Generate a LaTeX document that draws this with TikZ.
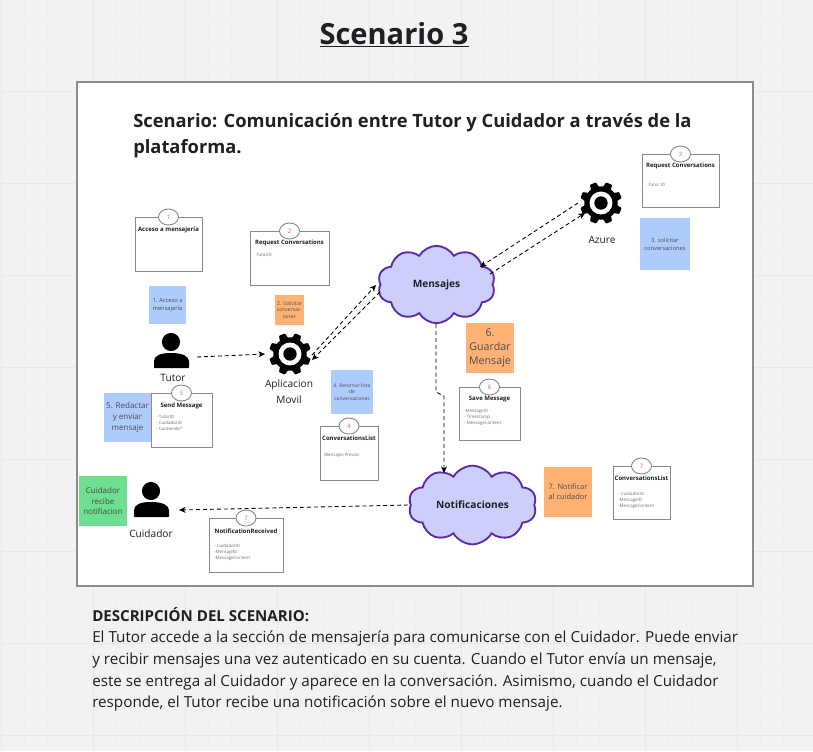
\documentclass[tikz,border=0pt]{standalone}
\usepackage{fontspec}
\setmainfont{Open Sans}
\usetikzlibrary{shapes.symbols,shapes.geometric,arrows.meta}
\definecolor{bg}{HTML}{F2F2F2}
\definecolor{gridc}{HTML}{EEEEEE}
\definecolor{gridm}{HTML}{E8E8E8}
\definecolor{framec}{HTML}{8C8C8C}
\definecolor{cardc}{HTML}{8A8A8A}
\definecolor{sblue}{HTML}{ADCBFB}
\definecolor{sorange}{HTML}{FFB273}
\definecolor{sgreen}{HTML}{6EDE8F}
\definecolor{cloudf}{HTML}{CCCEFC}
\definecolor{cloudd}{HTML}{5B2BAE}
\definecolor{txt}{HTML}{1F1F24}
\definecolor{small}{HTML}{6E6E6E}
\definecolor{badgec}{HTML}{F0565A}
\newcommand{\fsz}[1]{\fontsize{#1}{#1}\selectfont\baselineskip=1.35\baselineskip}
\newcommand{\bodyoff}{22}
\tikzset{
  x=0.75pt,y=-0.75pt,
  cardbox/.style={draw=cardc,line width=0.9pt,fill=white},
  badge/.style={ellipse,draw=cardc,line width=0.7pt,fill=white,text=badgec,inner sep=0pt,minimum width=15pt,minimum height=12pt,font=\fsz{4.5}},
  cardtitle/.style={text=txt,font=\bfseries\fsz{4.5},inner sep=0pt,anchor=center},
  cardbody/.style={text=small,font=\fsz{3.3},inner sep=0pt,anchor=north west,align=left},
  sticky/.style={text=txt!80,inner sep=0pt,align=center},
  conn/.style={draw=black,line width=0.65pt,dash pattern=on 3pt off 2.2pt,-{Stealth[length=5pt,width=4.5pt]}},
  cloudn/.style={cloud,cloud puffs=10,cloud puff arc=120,aspect=1.55,draw=cloudd,line width=1.4pt,fill=cloudf,inner sep=0pt},
  cloudlabel/.style={text=txt,font=\bfseries\fsz{7.6},inner sep=0pt},
  iconlabel/.style={text=txt,font=\fsz{7.6},inner sep=0pt,align=center},
}
\newcommand{\card}[9]{%
  \node[cardbox,minimum width=#4*0.75pt-#2*0.75pt,minimum height=#5*0.75pt-#3*0.75pt,inner sep=0pt,anchor=north west] (#1) at (#2,#3) {};
  \node[badge] (#1b) at ({(#2+#4)/2},#3) {#6};
  \node[cardtitle] (#1t) at ({(#2+#4)/2},#9) {#7};
  \node[cardbody] (#1c) at (#2+5,#3+\bodyoff) {#8};
}
\newcommand{\stick}[8]{%
  \node[sticky,fill=#6,minimum width=#4*0.75pt-#2*0.75pt,minimum height=#5*0.75pt-#3*0.75pt,anchor=north west] (#1) at (#2,#3) {};
  \node[sticky,font=\fsz{#7}] (#1t) at ({(#2+#4)/2},{(#3+#5)/2}) {#8};
}
\newcommand{\persona}[2]{%
  \fill[black] (#1-1,#2-8) circle (6.8pt);
  \fill[black,rounded corners=0.5pt] (#1-18,#2+18) -- (#1-18,#2+12) .. controls (#1-18,#2+6) and (#1-12,#2+3) .. (#1-1,#2+3) .. controls (#1+10,#2+3) and (#1+17,#2+6) .. (#1+17,#2+12) -- (#1+17,#2+18) -- cycle;
}
\newcommand{\engrane}[2]{%
  \begin{scope}[shift={(#1,#2)}]
    \foreach \a in {0,45,...,315}{
      \fill[black,rotate=\a+22.5,rounded corners=0.6pt] (-4.5,-15) -- (-3.2,-21) -- (3.2,-21) -- (4.5,-15) -- cycle;
    }
    \fill[black] (0,0) circle (12.5pt);
    \fill[white] (0,0) circle (8.6pt);
    \fill[black] (0,0) circle (5pt);
  \end{scope}
}
\begin{document}
\begin{tikzpicture}
\useasboundingbox (0,0) rectangle (813,751);
\fill[bg] (0,0) rectangle (813,751);
\foreach \gx in {1,24,...,813}{\draw[gridc,line width=0.4pt] (\gx,0) -- (\gx,751);}
\foreach \gy in {22,45,...,751}{\draw[gridc,line width=0.4pt] (0,\gy) -- (813,\gy);}
\foreach \gx in {1,93,...,813}{\draw[gridm,line width=0.7pt] (\gx,0) -- (\gx,751);}
\foreach \gy in {91,183,...,751}{\draw[gridm,line width=0.7pt] (0,\gy) -- (813,\gy);}
\node[inner sep=0pt,text=txt,font=\bfseries\fsz{21.8}] (titulo) at (394,35) {\underline{Scenario 3}};
\draw[draw=framec,line width=1pt,fill=white] (77,82) rectangle (753,586);
\node[inner sep=0pt,anchor=base west,text=txt,font=\bfseries\fsz{13.75}] (sub1) at (133,127) {Scenario: Comunicación entre Tutor y Cuidador a través de la};
\node[inner sep=0pt,anchor=base west,text=txt,font=\bfseries\fsz{13.75}] (sub2) at (133,153) {plataforma.};

\card{c1}{135}{217}{202}{271}{1}{Acceso a mensajería}{}{230}
\card{c2}{250}{231}{329}{285}{2}{Request Conversations}{-TutorID}{243}
\renewcommand{\bodyoff}{29}
\card{c3}{642}{154}{719}{207}{3}{Request Conversations}{-Tutor ID}{166}
\renewcommand{\bodyoff}{22}
\card{c4}{320}{426}{378}{480}{4}{ConversationsList}{}{438}
\card{c5}{151}{393}{212}{447}{5}{Send Message}{- TutorID\\- CuidadorID\\- Contenido*}{406}
\card{c6}{459}{387}{520}{440}{6}{Save Message}{-MessageID\\- Timestamp\\- MessageContent}{399}
\renewcommand{\bodyoff}{26}
\card{c7}{613}{466}{670}{519}{7}{ConversationsList}{- CuidadorID\\-MessageID\\-MessageContent}{478}
\renewcommand{\bodyoff}{26}
\card{c8}{209}{518}{283}{572}{7}{NotificationReceived}{- CuidadorID\\-MensajeID\\-MessageContent}{531}
\node[cardbody] (c4d) at (324,453) {Mensajes Previos};

\stick{s1}{149}{286}{186}{324}{sblue}{4.3}{1. Acceso a\\mensajería}
\stick{s2}{275}{295}{304}{325}{sorange}{3.8}{2. Solicitar\\conversac-\\iones}
\stick{s3}{640}{218}{690}{270}{sblue}{4.3}{3. solicitar\\conversaciones}
\stick{s4}{331}{370}{373}{414}{sblue}{3.7}{4. Retornar lista\\de\\conversaciones}
\stick{s5}{104}{393}{151}{442}{sblue}{6}{5. Redactar\\y enviar\\mensaje}
\stick{s6}{466}{323}{514}{373}{sorange}{8}{6.\\Guardar\\Mensaje}
\stick{s7}{544}{467}{592}{517}{sorange}{5.6}{7. Notificar\\al cuidador}
\stick{s8}{79}{476}{127}{526}{sgreen}{6}{Cuidador\\recibe\\notifiacion}

\persona{172}{350}
\persona{152}{499}
\engrane{290}{354}
\engrane{601}{203}
\node[iconlabel] (ltutor) at (173,378) {Tutor};
\node[iconlabel] (lapp1) at (289,385) {Aplicacion};
\node[iconlabel] (lapp2) at (289,400) {Movil};
\node[iconlabel] (lazure) at (602,240) {Azure};
\node[iconlabel] (lcuid) at (151,534) {Cuidador};

\node[cloudn,minimum width=88pt,minimum height=58pt] (mensajes) at (436.5,284.5) {};
\node[cloudlabel] (mensajesl) at (436.5,284.5) {Mensajes};
\node[cloudn,minimum width=96pt,minimum height=59pt] (notif) at (472.5,505) {};
\node[cloudlabel] (notifl) at (472.5,505) {Notificaciones};

\coordinate (tutorE) at (197,357);
\coordinate (appW) at (265,354);
\coordinate (appA) at (312,355);
\coordinate (menA) at (376,285);
\coordinate (menB) at (380,292);
\coordinate (appB) at (312,360);
\coordinate (azA) at (578,203);
\coordinate (menC) at (480,267);
\coordinate (menD) at (490,274);
\coordinate (azB) at (585,213);
\coordinate (menS) at (436,324);
\coordinate (j1) at (436,392);
\coordinate (j2) at (444,396);
\coordinate (notN) at (444,473);
\coordinate (notW) at (408,505);
\coordinate (cuidE) at (179,510);
\draw[conn] (tutorE) -- (appW);
\draw[conn] (appA) -- (menA);
\draw[conn] (menB) -- (appB);
\draw[conn] (azA) -- (menC);
\draw[conn] (menD) -- (azB);
\draw[conn] (menS) -- (j1) -- (j2) -- (notN);
\draw[conn] (notW) -- (cuidE);

\node[inner sep=0pt,anchor=base west,text=txt,font=\bfseries\fsz{11.3}] (d0) at (92,621) {DESCRIPCIÓN DEL SCENARIO:};
\node[inner sep=0pt,anchor=base west,text=txt,font=\fsz{11.42}] (d1) at (92,642) {El Tutor accede a la sección de mensajería para comunicarse con el Cuidador. Puede enviar};
\node[inner sep=0pt,anchor=base west,text=txt,font=\fsz{11.42}] (d2) at (92,664) {y recibir mensajes una vez autenticado en su cuenta. Cuando el Tutor envía un mensaje,};
\node[inner sep=0pt,anchor=base west,text=txt,font=\fsz{11.42}] (d3) at (92,686) {este se entrega al Cuidador y aparece en la conversación. Asimismo, cuando el Cuidador};
\node[inner sep=0pt,anchor=base west,text=txt,font=\fsz{11.42}] (d4) at (92,707) {responde, el Tutor recibe una notificación sobre el nuevo mensaje.};
\end{tikzpicture}
\end{document}
